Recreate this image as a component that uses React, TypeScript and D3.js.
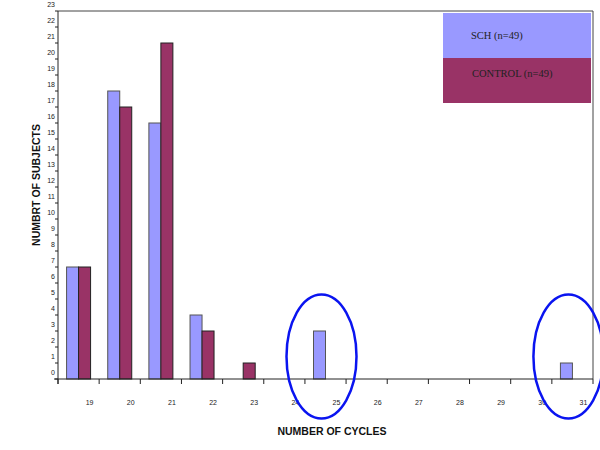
import React from "react";
import * as d3 from "d3";

const categories = ["19", "20", "21", "22", "23", "24", "25", "26", "27", "28", "29", "30", "31"];
const schValues = [7, 18, 16, 4, 0, 0, 3, 0, 0, 0, 0, 0, 1];
const controlValues = [7, 17, 21, 3, 1, 0, 0, 0, 0, 0, 0, 0, 0];
const seriesNames = ["SCH (n=49)", "CONTROL (n=49)"];
const yTicks = d3.range(0, 24);
// circled categories (drawn as ellipses in the source)
const highlighted = ["25", "31"];

const width = 600;
const height = 450;
const margin = { top: 11, right: 7, bottom: 71, left: 58 };

const Chart = () => {
  const svgRef = React.useRef<SVGSVGElement | null>(null);

  React.useEffect(() => {
    drawChart(svgRef.current);
  }, []);

  function drawChart(node: SVGSVGElement | null) {
    if (!node) return;
    const svg = d3.select(node);
    svg.selectAll("*").remove();

    const x = d3
      .scaleBand()
      .domain(categories)
      .range([margin.left, width - margin.right])
      .paddingInner(0);

    const y = d3
      .scaleLinear()
      .domain([0, 23])
      .range([height - margin.bottom, margin.top]);

    const barW = 12;
    const colors = ["#9999ff", "#993366"];
    const strokes = ["#555", "#222"];

    // frame (top + right)
    svg
      .append("path")
      .attr(
        "d",
        `M${margin.left},${margin.top}H${width - margin.right}V${height - margin.bottom}`
      )
      .attr("fill", "none")
      .attr("stroke", "#444")
      .attr("stroke-width", 1);

    // bars
    const series = [schValues, controlValues];
    series.forEach((vals, s) => {
      svg
        .append("g")
        .selectAll("rect")
        .data(vals.map((v, i) => ({ v, c: categories[i] })).filter((d) => d.v > 0))
        .enter()
        .append("rect")
        .attr("x", (d) => x(d.c)! + x.bandwidth() / 2 - barW + s * barW)
        .attr("y", (d) => y(d.v))
        .attr("width", barW)
        .attr("height", (d) => y(0) - y(d.v))
        .attr("fill", colors[s])
        .attr("stroke", strokes[s])
        .attr("stroke-width", 1);
    });

    // y axis
    const yAxis = svg.append("g").attr("font-family", "Liberation Sans, Arial, sans-serif");
    yAxis
      .append("line")
      .attr("x1", margin.left)
      .attr("x2", margin.left)
      .attr("y1", margin.top)
      .attr("y2", y(0) + 5)
      .attr("stroke", "#222");
    yAxis
      .selectAll("line.tick")
      .data(yTicks)
      .enter()
      .append("line")
      .attr("class", "tick")
      .attr("x1", margin.left - 3)
      .attr("x2", margin.left)
      .attr("y1", (d) => y(d))
      .attr("y2", (d) => y(d))
      .attr("stroke", "#222");
    yAxis
      .selectAll("text")
      .data(yTicks)
      .enter()
      .append("text")
      .attr("x", margin.left - 3)
      .attr("y", (d) => y(d) - 4.5)
      .attr("text-anchor", "end")
      .attr("font-size", 7)
      .attr("fill", "#222")
      .text((d) => String(d));

    // x axis
    const xAxis = svg.append("g").attr("font-family", "Liberation Sans, Arial, sans-serif");
    xAxis
      .append("line")
      .attr("x1", margin.left - 4)
      .attr("x2", width - margin.right)
      .attr("y1", y(0))
      .attr("y2", y(0))
      .attr("stroke", "#222");
    xAxis
      .selectAll("line.tick")
      .data(categories)
      .enter()
      .append("line")
      .attr("class", "tick")
      .attr("x1", (d) => x(d)!)
      .attr("x2", (d) => x(d)!)
      .attr("y1", y(0))
      .attr("y2", y(0) + 5)
      .attr("stroke", "#222");
    xAxis
      .append("line")
      .attr("x1", width - margin.right)
      .attr("x2", width - margin.right)
      .attr("y1", y(0))
      .attr("y2", y(0) + 5)
      .attr("stroke", "#222");
    xAxis
      .selectAll("text")
      .data(categories)
      .enter()
      .append("text")
      .attr("x", (d) => x(d)! + x.bandwidth() / 2 + 11)
      .attr("y", y(0) + 25.5)
      .attr("text-anchor", "middle")
      .attr("font-size", 7)
      .attr("fill", "#222")
      .text((d) => d);

    // axis titles
    svg
      .append("text")
      .attr("transform", `translate(40, 185) rotate(-90)`)
      .attr("text-anchor", "middle")
      .attr("font-family", "Liberation Sans, Arial, sans-serif")
      .attr("font-weight", "bold")
      .attr("font-size", 10.5)
      .attr("fill", "#111")
      .text("NUMBRT OF SUBJECTS");
    svg
      .append("text")
      .attr("x", 332)
      .attr("y", 435)
      .attr("text-anchor", "middle")
      .attr("font-family", "Liberation Sans, Arial, sans-serif")
      .attr("font-weight", "bold")
      .attr("font-size", 10.5)
      .attr("fill", "#111")
      .text("NUMBER OF CYCLES");

    // legend
    const legend = svg.append("g").attr("font-family", "Liberation Serif, Times New Roman, serif");
    seriesNames.forEach((name, i) => {
      legend
        .append("rect")
        .attr("x", 443)
        .attr("y", 13 + i * 45)
        .attr("width", 148)
        .attr("height", 45)
        .attr("fill", colors[i]);
      legend
        .append("text")
        .attr("x", i === 0 ? 471 : 472)
        .attr("y", 38.5 + i * 38)
        .attr("font-size", 10.5)
        .attr("fill", "#222")
        .text(name);
    });

    // highlight ellipses
    svg
      .append("g")
      .selectAll("ellipse")
      .data(highlighted)
      .enter()
      .append("ellipse")
      .attr("cx", (d) => x(d)! + x.bandwidth() / 2 - 4)
      .attr("cy", 356.5)
      .attr("rx", 35)
      .attr("ry", 62)
      .attr("fill", "none")
      .attr("stroke", "#0a14f0")
      .attr("stroke-width", 2.5);
  }

  return (
    <svg
      width={width}
      height={height}
      ref={svgRef}
      style={{ display: "block", overflow: "visible" }}
    />
  );
};

export default function App() {
  return (
    <div style={{ position: "absolute", left: 0, top: 0 }}>
      <Chart />
    </div>
  );
}
